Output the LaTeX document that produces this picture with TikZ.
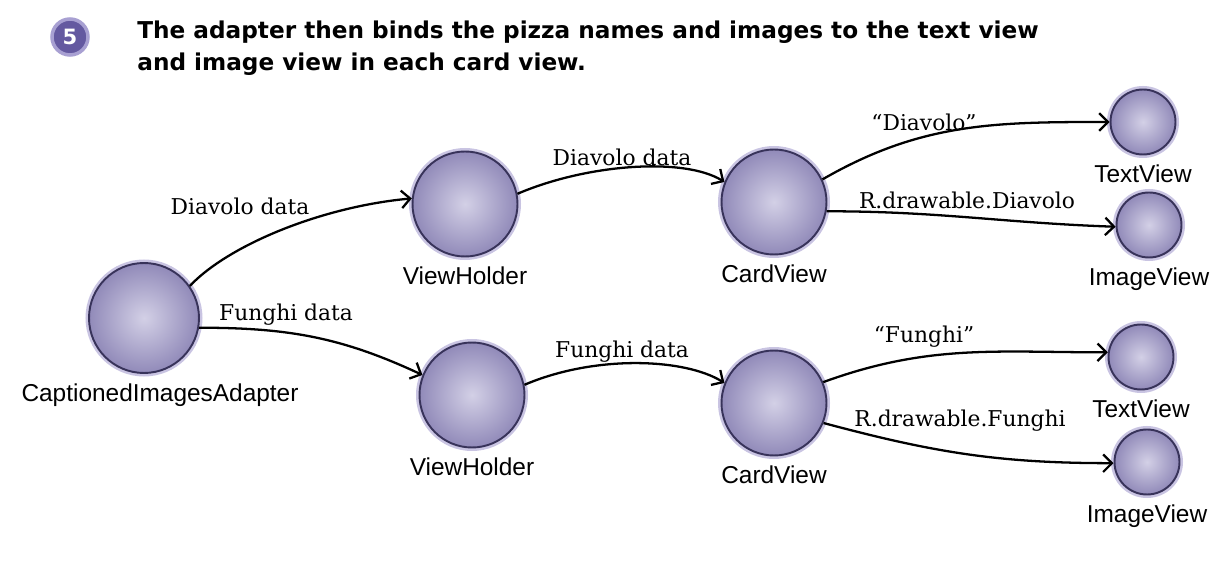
\documentclass[tikz,border=0pt]{standalone}
\usepackage{fontspec}
\setmainfont{DejaVu Serif}
\setsansfont{Liberation Sans}
\newfontfamily\headfont{DejaVu Sans}
\usetikzlibrary{arrows.meta,positioning}
\definecolor{ballin}{HTML}{D3D0E6}
\definecolor{ballout}{HTML}{918AB9}
\definecolor{ballrim}{HTML}{38335A}
\definecolor{halo}{HTML}{C9C4E2}
\definecolor{badge}{HTML}{6459A0}
\definecolor{badgerim}{HTML}{A8A0D2}
\begin{document}
\begin{tikzpicture}[x=0.02cm,y=-0.02cm,
  ball/.style={circle,shade,inner color=ballin,outer color=ballout,
    draw=ballrim,line width=1.1pt,preaction={draw=halo,line width=4pt}},
  big/.style={ball,minimum size=2.2cm},
  mid/.style={ball,minimum size=2.1cm},
  small/.style={ball,minimum size=1.3cm},
  lbl/.style={font=\sffamily\fontsize{13.9}{16}\selectfont},
  data/.style={font=\fontsize{12.4}{14}\selectfont},
  flow/.style={draw,line width=1.3pt,-{Straight Barb[length=5pt,width=10pt]}}
  ]
\useasboundingbox (0,0) rectangle (1228,577);
% heading
\node[circle,fill=badge,draw=badgerim,line width=2pt,minimum size=0.72cm,
  inner sep=0pt,text=white,font=\headfont\bfseries\large] (step5) at (70,37) {5};
\node[anchor=north west,align=left,inner sep=0pt,
  font=\headfont\bfseries\fontsize{13.2}{18}\selectfont] (title) at (137,21)
  {The adapter then binds the pizza names and images to the text view\\
   and image view in each card view.};
% circles
\node[big] (adapter) at (144,318) {};
\node[lbl,below=2pt of adapter,xshift=16*0.02cm] (adapterlbl) {CaptionedImagesAdapter};
\node[mid] (vh1) at (465,204) {};
\node[lbl,below=2pt of vh1] (vh1lbl) {ViewHolder};
\node[mid] (vh2) at (472,395) {};
\node[lbl,below=2pt of vh2] (vh2lbl) {ViewHolder};
\node[mid] (cv1) at (774,202) {};
\node[lbl,below=2pt of cv1] (cv1lbl) {CardView};
\node[mid] (cv2) at (774,403) {};
\node[lbl,below=2pt of cv2] (cv2lbl) {CardView};
\node[small] (tv1) at (1143,122) {};
\node[lbl,below=2pt of tv1] (tv1lbl) {TextView};
\node[small] (iv1) at (1149,225) {};
\node[lbl,below=2pt of iv1] (iv1lbl) {ImageView};
\node[small] (tv2) at (1141,357) {};
\node[lbl,below=2pt of tv2] (tv2lbl) {TextView};
\node[small] (iv2) at (1147,462) {};
\node[lbl,below=2pt of iv2] (iv2lbl) {ImageView};
% data passed along
\path[flow] (adapter.35) .. controls +(40,-42) and +(-88,8) .. (vh1.174);
\path[flow] (adapter.-10) to[out=0,in=155] (vh2.158);
\path[flow] (vh1.11) .. controls +(70,-30) and +(-40,-25) .. (cv1.158);
\path[flow] (vh2.11) .. controls +(70,-30) and +(-40,-25) .. (cv2.158);
\path[flow] (cv1.25) to[out=30,in=180] (tv1.180);
\path[flow] (cv1.-10) to[out=0,in=178] (iv1.183);
\path[flow] (cv2.23) to[out=20,in=180] (tv2.172);
\path[flow] (cv2.-22) to[out=-15,in=180] (iv2.182);
% labels on the arrows
\node[data] (d1) at (240,206) {Diavolo data};
\node[data] (f1) at (286,315) {Funghi data};
\node[data] (d2) at (622,157) {Diavolo data};
\node[data] (f2) at (622,352) {Funghi data};
\node[data] (q1) at (924,122) {“Diavolo”};
\node[data] (r1) at (967,200) {R.drawable.Diavolo};
\node[data] (q2) at (924,337) {“Funghi”};
\node[data] (r2) at (960,421) {R.drawable.Funghi};
\end{tikzpicture}
\end{document}
